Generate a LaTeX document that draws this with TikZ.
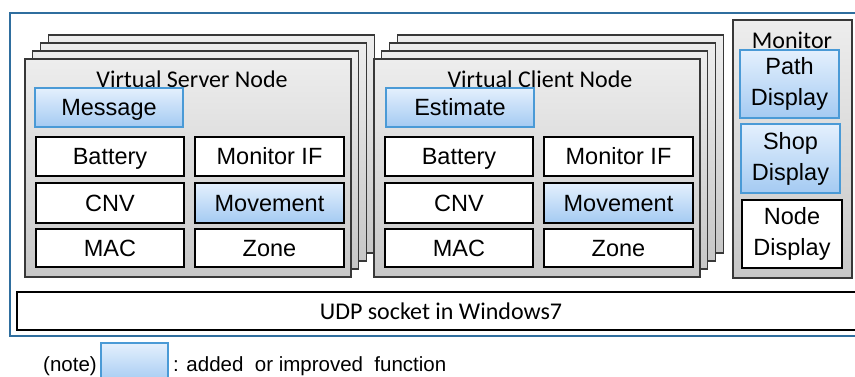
\documentclass[tikz,border=0pt]{standalone}
\usepackage{fontspec}
\setmainfont{Liberation Sans}
\newfontfamily\calfont{Carlito}
\newcommand\boxfont{\fontsize{23.5}{31}\selectfont}
\newcommand\headfont{\calfont\fontsize{24}{28}\selectfont}
\newcommand\notefont{\fontsize{20.5}{24}\selectfont}
\definecolor{frameblue}{HTML}{2F6E9E}
\definecolor{addedge}{HTML}{4A9AD6}
\definecolor{addtop}{HTML}{E4F0FD}
\definecolor{addbot}{HTML}{A4CAF2}
\tikzset{
  layerbox/.style={draw=black!78, line width=1.1pt, top color=black!7, bottom color=black!22,
    inner sep=0pt, outer sep=0pt, anchor=north west},
  plainbox/.style={draw=black, line width=1.8pt, fill=white, inner sep=0pt, outer sep=0pt,
    anchor=north west, font=\boxfont, align=center},
  addbox/.style={draw=addedge, line width=1.2pt, top color=addtop, bottom color=addbot,
    inner sep=0pt, outer sep=0pt, anchor=north west, font=\boxfont, align=center},
  oneline/.style={text height=16.8pt, text depth=0pt},
  headlabel/.style={font=\headfont, inner sep=0pt},
  cellA/.style={minimum width=148pt, minimum height=39pt, oneline},
  cellB/.style={minimum width=149pt, minimum height=39pt, oneline},
  dispbox/.style={minimum width=99pt, minimum height=68pt}
}
\begin{document}
\begin{tikzpicture}[x=1pt,y=-1pt]
\useasboundingbox (0,0) rectangle (855,376);
\clip (0,0) rectangle (855,376);

% outer frame
\node[draw=frameblue, line width=2pt, inner sep=0pt, outer sep=0pt, anchor=north west,
  minimum width=880pt, minimum height=323pt] (frame) at (10,13) {};

% UDP layer
\node[draw=black, line width=1.8pt, fill=white, inner sep=0pt, outer sep=0pt, anchor=north west,
  minimum width=848pt, minimum height=38pt, font=\headfont] (udp) at (17,292) {UDP socket in Windows7};

% virtual server node stack
\node[layerbox, minimum width=326pt, minimum height=218pt] (srv3) at (48.1,35) {};
\node[layerbox, minimum width=326pt, minimum height=218pt] (srv2) at (40.4,43) {};
\node[layerbox, minimum width=326pt, minimum height=218pt] (srv1) at (32.7,51) {};
\node[layerbox, minimum width=326pt, minimum height=218pt] (srv) at (25,59) {};
\node[headlabel] (srvtitle) at (192,79) {Virtual Server Node};
\node[addbox, cellA] (smsg) at (35,88) {Message};
\node[plainbox, cellA] (sbat) at (36,137) {Battery};
\node[plainbox, cellB] (smif) at (195,137) {Monitor IF};
\node[plainbox, cellA, minimum height=40pt] (scnv) at (36,183) {CNV};
\node[addbox, cellB, draw=black, line width=1.8pt, minimum height=40pt] (smov) at (195,183) {Movement};
\node[plainbox, cellA, minimum height=38pt] (smac) at (36,229) {MAC};
\node[plainbox, cellB, minimum height=38pt] (szone) at (195,229) {Zone};

% virtual client node stack
\node[layerbox, minimum width=326pt, minimum height=218pt] (cli3) at (397.1,35) {};
\node[layerbox, minimum width=326pt, minimum height=218pt] (cli2) at (389.4,43) {};
\node[layerbox, minimum width=326pt, minimum height=218pt] (cli1) at (381.7,51) {};
\node[layerbox, minimum width=326pt, minimum height=218pt] (cli) at (374,59) {};
\node[headlabel] (clititle) at (540,79) {Virtual Client Node};
\node[addbox, cellA] (cest) at (386,88) {Estimate};
\node[plainbox, cellA] (cbat) at (385,137) {Battery};
\node[plainbox, cellB] (cmif) at (544,137) {Monitor IF};
\node[plainbox, cellA, minimum height=40pt] (ccnv) at (385,183) {CNV};
\node[addbox, cellB, draw=black, line width=1.8pt, minimum height=40pt] (cmov) at (544,183) {Movement};
\node[plainbox, cellA, minimum height=38pt] (cmac) at (385,229) {MAC};
\node[plainbox, cellB, minimum height=38pt] (czone) at (544,229) {Zone};

% monitor
\node[layerbox, minimum width=119pt, minimum height=258pt] (mon) at (733,20) {};
\node[headlabel] (montitle) at (792,40) {Monitor};
\node[addbox, dispbox] (path) at (740,50) {Path\\Display};
\node[addbox, dispbox, minimum height=69pt] (shop) at (741,124) {Shop\\Display};
\node[plainbox, dispbox, minimum width=100pt] (ndisp) at (742,200) {Node\\Display};

% legend
\node[addbox, minimum width=67pt, minimum height=40pt] (swatch) at (101,343) {};
\node[font=\notefont, inner sep=0pt, anchor=base east] (note) at (97,371) {(note)};
\node[font=\notefont, inner sep=0pt, anchor=base west] (notetext) at (173,371) {: added\ \ or improved\ \ function};
\end{tikzpicture}
\end{document}
